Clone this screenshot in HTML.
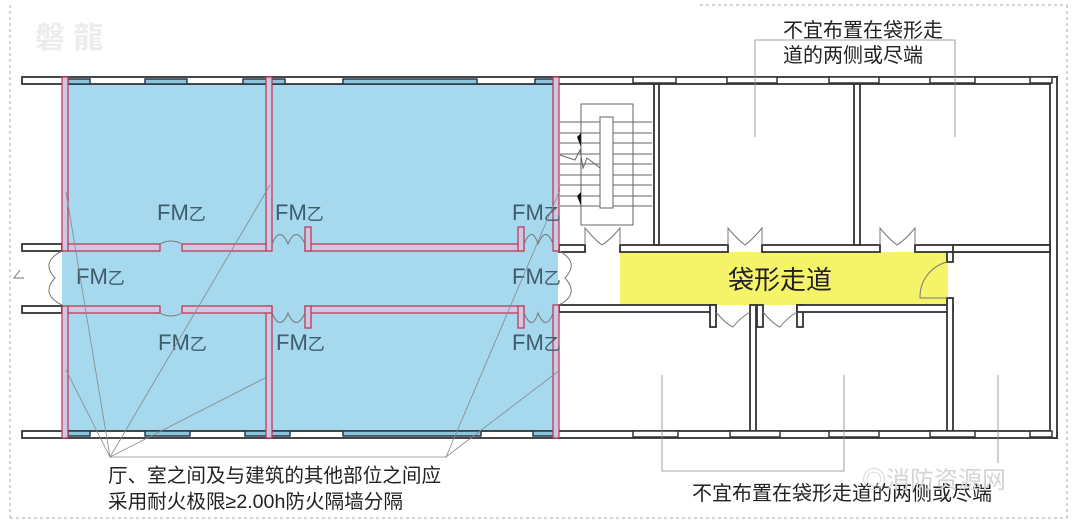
<!DOCTYPE html>
<html><head><meta charset="utf-8"><style>
body{margin:0;background:#fff}
svg{display:block}
text{font-family:"Liberation Sans","Noto Sans CJK SC",sans-serif}
</style></head><body>
<svg width="1080" height="527" viewBox="0 0 1080 527">
<rect width="1080" height="527" fill="#fff"/>
<g stroke="#aaa" stroke-dasharray="3,3" fill="none" stroke-width="1">
<line x1="10" y1="5" x2="10" y2="518"/><line x1="10" y1="518" x2="1067" y2="518"/>
<line x1="1067" y1="5" x2="1067" y2="518"/><line x1="700" y1="5" x2="1067" y2="5"/>
</g>
<text x="35" y="48" font-size="30" fill="#ececec" font-weight="bold">磐 龍</text>

<rect x="62" y="77" width="496" height="361" fill="#a6d8ee"/>
<rect x="620" y="252" width="328" height="53" fill="#f5f36a"/>

<g fill="#fff" stroke="#333" stroke-width="1.8">
<rect x="22" y="77" width="1035" height="7"/>
<rect x="22" y="431" width="1035" height="7"/>
<rect x="1050" y="77" width="7" height="361"/>
<rect x="22" y="244" width="40" height="7"/>
<rect x="22" y="306" width="40" height="7"/>
<rect x="559" y="245" width="26" height="7"/>
<rect x="620" y="245" width="108" height="7"/>
<rect x="762" y="245" width="118" height="7"/>
<rect x="915" y="245" width="135" height="7"/>
<rect x="654" y="84" width="5" height="161"/>
<rect x="854" y="84" width="6" height="161"/>
<rect x="559" y="305" width="157" height="7"/>
<rect x="710" y="305" width="6" height="22"/>
<rect x="750" y="305" width="6" height="126"/>
<rect x="757" y="305" width="6" height="22"/>
<rect x="797" y="305" width="6" height="22"/>
<rect x="797" y="305" width="156" height="7"/>
<rect x="947" y="252" width="6" height="10"/>
<rect x="947" y="298" width="6" height="133"/>
<rect x="953" y="245" width="97" height="7"/>
</g>
<g fill="#8cc4dc" stroke="#2a3a4a" stroke-width="1.5">
<rect x="68" y="79" width="22" height="5"/><rect x="145" y="79" width="42" height="5"/><rect x="243" y="79" width="42" height="5"/>
<rect x="343" y="79" width="134" height="5"/><rect x="535" y="79" width="20" height="5"/>
<rect x="68" y="431" width="22" height="5"/><rect x="145" y="431" width="45" height="5"/><rect x="245" y="431" width="45" height="5"/>
<rect x="343" y="431" width="138" height="5"/><rect x="533" y="431" width="22" height="5"/>
</g>
<g fill="#fff" stroke="#333" stroke-width="1.5">
<rect x="633" y="77" width="43" height="6"/><rect x="727" y="77" width="50" height="6"/><rect x="829" y="77" width="50" height="6"/>
<rect x="930" y="77" width="45" height="6"/><rect x="1030" y="77" width="22" height="6"/>
<rect x="633" y="431" width="45" height="6"/><rect x="730" y="431" width="50" height="6"/><rect x="829" y="431" width="50" height="6"/>
<rect x="930" y="431" width="45" height="6"/><rect x="1030" y="431" width="22" height="6"/>
</g>

<g fill="#cfc8e2" stroke="#c0304a" stroke-width="1.2">
<rect x="62" y="77" width="6" height="174"/>
<rect x="62" y="306" width="6" height="132"/>
<rect x="266" y="77" width="6" height="174"/>
<rect x="266" y="306" width="6" height="132"/>
<rect x="553" y="77" width="6" height="174"/>
<rect x="553" y="305" width="6" height="133"/>
<rect x="68" y="244" width="92" height="7"/>
<rect x="182" y="244" width="84" height="7"/>
<rect x="305" y="244" width="219" height="7"/>
<rect x="305" y="227" width="6" height="24"/>
<rect x="518" y="227" width="6" height="24"/>
<rect x="68" y="306" width="92" height="7"/>
<rect x="182" y="306" width="90" height="7"/>
<rect x="305" y="306" width="219" height="7"/>
<rect x="305" y="306" width="6" height="22"/>
<rect x="518" y="306" width="6" height="22"/>
</g>

<g stroke="#666" stroke-width="1" fill="none">
<rect x="581" y="104" width="52" height="121"/>
<line x1="560" y1="122" x2="652" y2="122"/><line x1="560" y1="133" x2="652" y2="133"/>
<line x1="560" y1="143" x2="652" y2="143"/><line x1="560" y1="154" x2="652" y2="154"/>
<line x1="560" y1="164" x2="652" y2="164"/><line x1="560" y1="175" x2="652" y2="175"/>
<line x1="560" y1="185" x2="652" y2="185"/><line x1="560" y1="196" x2="652" y2="196"/>
<line x1="560" y1="206" x2="652" y2="206"/>
<path d="M560 155 L575 160 L580 150 L583 168 L587 158 L600 168"/>
</g>
<rect x="600" y="117" width="13" height="91" fill="#fff" stroke="#666"/>
<path d="M577 137 l4 -4 l0 14z M577 196 l4 -4 l0 14z" fill="#111"/>

<g fill="none" stroke="#777" stroke-width="1">
<path d="M160 244 A22 22 0 0 1 182 244"/><path d="M160 313 A22 22 0 0 0 182 313"/>
<path d="M272 244 Q280 225 288 244 Q296 225 305 244"/><path d="M272 313 Q280 332 288 313 Q296 332 305 313"/>
<path d="M524 244 Q532 225 538 244 Q546 225 553 244"/><path d="M524 313 Q532 332 538 313 Q546 332 553 313"/>
<path d="M62 251 Q40 262 55 278 Q40 294 62 305"/><path d="M559 251 Q580 262 565 278 Q580 294 559 305"/>
<path d="M24 278 L14 278 L20 270"/>
<path d="M585 245 L585 228 Q595 240 602 245 Q610 240 620 228 L620 245"/>
<path d="M728 245 L728 228 Q738 240 745 245 Q752 240 762 228 L762 245"/>
<path d="M880 245 L880 228 Q890 240 897 245 Q905 240 915 228 L915 245"/>
<path d="M716 312 Q726 324 733 327 Q740 318 750 312"/>
<path d="M763 312 Q773 324 780 327 Q787 318 797 312"/>
<path d="M947 262 A36 36 0 0 0 920 298 L947 298"/>
</g>

<g font-size="22" fill="#3e5c6c">
<text x="157" y="220">FM<tspan font-size="17">乙</tspan></text>
<text x="275" y="220">FM<tspan font-size="17">乙</tspan></text>
<text x="512" y="220">FM<tspan font-size="17">乙</tspan></text>
<text x="76" y="284">FM<tspan font-size="17">乙</tspan></text>
<text x="512" y="284">FM<tspan font-size="17">乙</tspan></text>
<text x="158" y="350">FM<tspan font-size="17">乙</tspan></text>
<text x="276" y="350">FM<tspan font-size="17">乙</tspan></text>
<text x="512" y="350">FM<tspan font-size="17">乙</tspan></text>
</g>
<text x="728" y="289" font-size="26" fill="#222">袋形走道</text>

<g stroke="#888" stroke-width="0.8" fill="none">
<path d="M66 192 L110 457 L270 185 M66 370 L110 457 L267 377 M110 457 L446 457 M560 190 L446 457 L560 370"/>
<path d="M755 137 L755 40 L955 40 L955 137"/>
<path d="M662 375 L662 471 L844 471 L844 375 M998 375 L998 463"/>
</g>

<g font-size="20" fill="#222">
<text x="783" y="37">不宜布置在袋形走</text>
<text x="783" y="62">道的两侧或尽端</text>
<text x="108" y="482" font-size="19.6">厅、室之间及与建筑的其他部位之间应</text>
<text x="108" y="508" font-size="19.6">采用耐火极限≥2.00h防火隔墙分隔</text>
<text x="692" y="500">不宜布置在袋形走道的两侧或尽端</text>
</g>
<text x="862" y="488" font-size="24" fill="#d4d4d4">◎消防资源网</text>
</svg>
</body></html>
